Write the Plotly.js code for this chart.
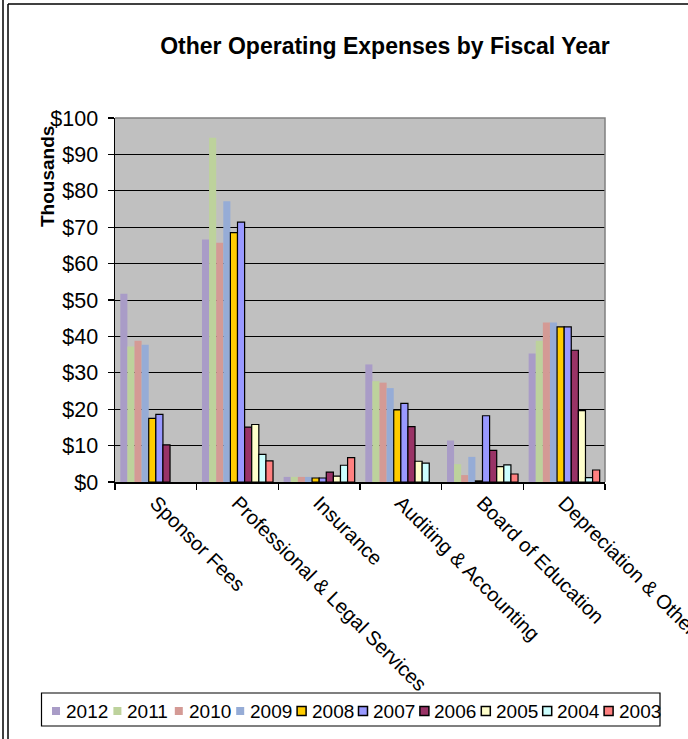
<!DOCTYPE html>
<html><head><meta charset="utf-8">
<script src="https://cdn.plot.ly/plotly-3.0.1.min.js"></script>
<style>html,body{margin:0;padding:0;background:#fff;}#chart{width:688px;height:739px;}</style>
</head><body><div id="chart"></div>
<script>
const categories = ['Sponsor Fees', 'Professional & Legal Services', 'Insurance', 'Auditing & Accounting', 'Board of Education', 'Depreciation & Other'];
const years = ['2012', '2011', '2010', '2009', '2008', '2007', '2006', '2005', '2004', '2003'];
const colors = ['#a99cc7', '#bdd29c', '#d49a95', '#96acd6', '#ffcc00', '#9999ff', '#993366', '#ffffcc', '#ccffff', '#ff8080'];
const outlined = [false, false, false, false, true, true, true, true, true, true];

const fy2012 = [51.7, 66.6, 1.4, 32.3, 11.4, 35.3];
const fy2011 = [37.2, 94.6, 1.4, 27.7, 4.9, 38.8];
const fy2010 = [38.8, 65.7, 1.4, 27.3, 1.9, 43.8];
const fy2009 = [37.7, 77.1, 1.4, 25.8, 6.9, 43.8];
const fy2008 = [17.5, 68.5, 1.1, 19.8, 0.3, 42.6];
const fy2007 = [18.6, 71.4, 1.1, 21.6, 18.2, 42.6];
const fy2006 = [10.2, 15.1, 2.7, 15.2, 8.7, 36.2];
const fy2005 = [null, 15.8, 1.6, 5.7, 4.2, 19.6];
const fy2004 = [null, 7.6, 4.6, 5.2, 4.7, 1.2];
const fy2003 = [null, 5.8, 6.7, null, 2.2, 3.3];
const series = [fy2012, fy2011, fy2010, fy2009, fy2008, fy2007, fy2006, fy2005, fy2004, fy2003];

const W = 688, H = 739;
const M = {l: 115, r: 83, t: 118, b: 257};
const pw = W - M.l - M.r, ph = H - M.t - M.b;
const px = x => (x - M.l) / pw;
const py = y => (H - M.b - y) / ph;

const traces = series.map((vals, i) => ({
  type: 'bar',
  name: years[i],
  x: categories,
  y: vals,
  marker: {
    color: colors[i],
    line: {color: outlined[i] ? '#000000' : colors[i], width: outlined[i] ? 1.2 : 0}
  },
  hoverinfo: 'skip'
}));

const shapes = [];
const annotations = [];

// outer frame
shapes.push({type: 'line', xref: 'paper', yref: 'paper', x0: px(3), x1: px(3), y0: py(0), y1: py(739), line: {color: '#000', width: 1.5}});
shapes.push({type: 'line', xref: 'paper', yref: 'paper', x0: px(8), x1: px(8), y0: py(4), y1: py(739), line: {color: '#000', width: 1.5}});
shapes.push({type: 'line', xref: 'paper', yref: 'paper', x0: px(8), x1: px(688), y0: py(4), y1: py(4), line: {color: '#000', width: 1.5}});
// plot area grey top/right border
shapes.push({type: 'path', xref: 'paper', yref: 'paper', path: 'M0,1 L1,1 L1,0', line: {color: '#808080', width: 1.5}, layer: 'above'});

// legend
shapes.push({type: 'rect', xref: 'paper', yref: 'paper', x0: px(41.5), x1: px(660), y0: py(693), y1: py(726), line: {color: '#000', width: 1.2}, fillcolor: 'rgba(255,255,255,0)'});
years.forEach((yr, i) => {
  const cx = 56 + i * 61.4, cy = 711;
  const s = outlined[i] ? 4.5 : 4;
  shapes.push({type: 'rect', xref: 'paper', yref: 'paper', x0: px(cx - s), x1: px(cx + s), y0: py(cy - s), y1: py(cy + s),
    fillcolor: colors[i], line: {color: outlined[i] ? '#000' : colors[i], width: outlined[i] ? 1.5 : 0}});
  annotations.push({xref: 'paper', yref: 'paper', x: px(cx + 8), y: py(cy), xanchor: 'left', yanchor: 'middle',
    text: yr, showarrow: false, font: {size: 19, color: '#000'}});
});

annotations.push({xref: 'paper', yref: 'paper', x: px(47), y: py(177), xanchor: 'center', yanchor: 'middle',
  text: 'Thousands', textangle: -90, showarrow: false, font: {size: 19, color: '#000', weight: 'bold'}});

const layout = {
  width: W, height: H,
  margin: M,
  paper_bgcolor: '#ffffff',
  plot_bgcolor: '#c0c0c0',
  font: {family: '"Liberation Sans", Arial, sans-serif', color: '#000', size: 20},
  title: {text: 'Other Operating Expenses by Fiscal Year', font: {size: 23, weight: 'bold', color: '#000'},
    xref: 'container', yref: 'container', x: 385 / W, y: 1 - 46 / H, xanchor: 'center', yanchor: 'middle'},
  showlegend: false,
  barmode: 'group',
  bargap: 0.13,
  bargroupgap: 0,
  xaxis: {type: 'category', tickson: 'boundaries', ticks: 'outside', ticklen: 6, tickcolor: '#000', tickwidth: 1.2,
    tickangle: 45, showline: true, linecolor: '#000', linewidth: 1.5, showgrid: false, automargin: false,
    tickfont: {size: 20, color: '#000'}, fixedrange: true},
  yaxis: {range: [0, 100], tick0: 0, dtick: 10, tickprefix: '$', ticks: 'outside', ticklen: 6, tickcolor: '#000', tickwidth: 1.2,
    showline: true, linecolor: '#000', linewidth: 1.5, showgrid: true, gridcolor: '#000', gridwidth: 1, zeroline: false,
    ticklabelstandoff: 5,
    automargin: false, tickfont: {size: 21.5, color: '#000'}, fixedrange: true},
  shapes: shapes,
  annotations: annotations
};

Plotly.newPlot('chart', traces, layout, {displayModeBar: false, staticPlot: true});
</script>
</body></html>
